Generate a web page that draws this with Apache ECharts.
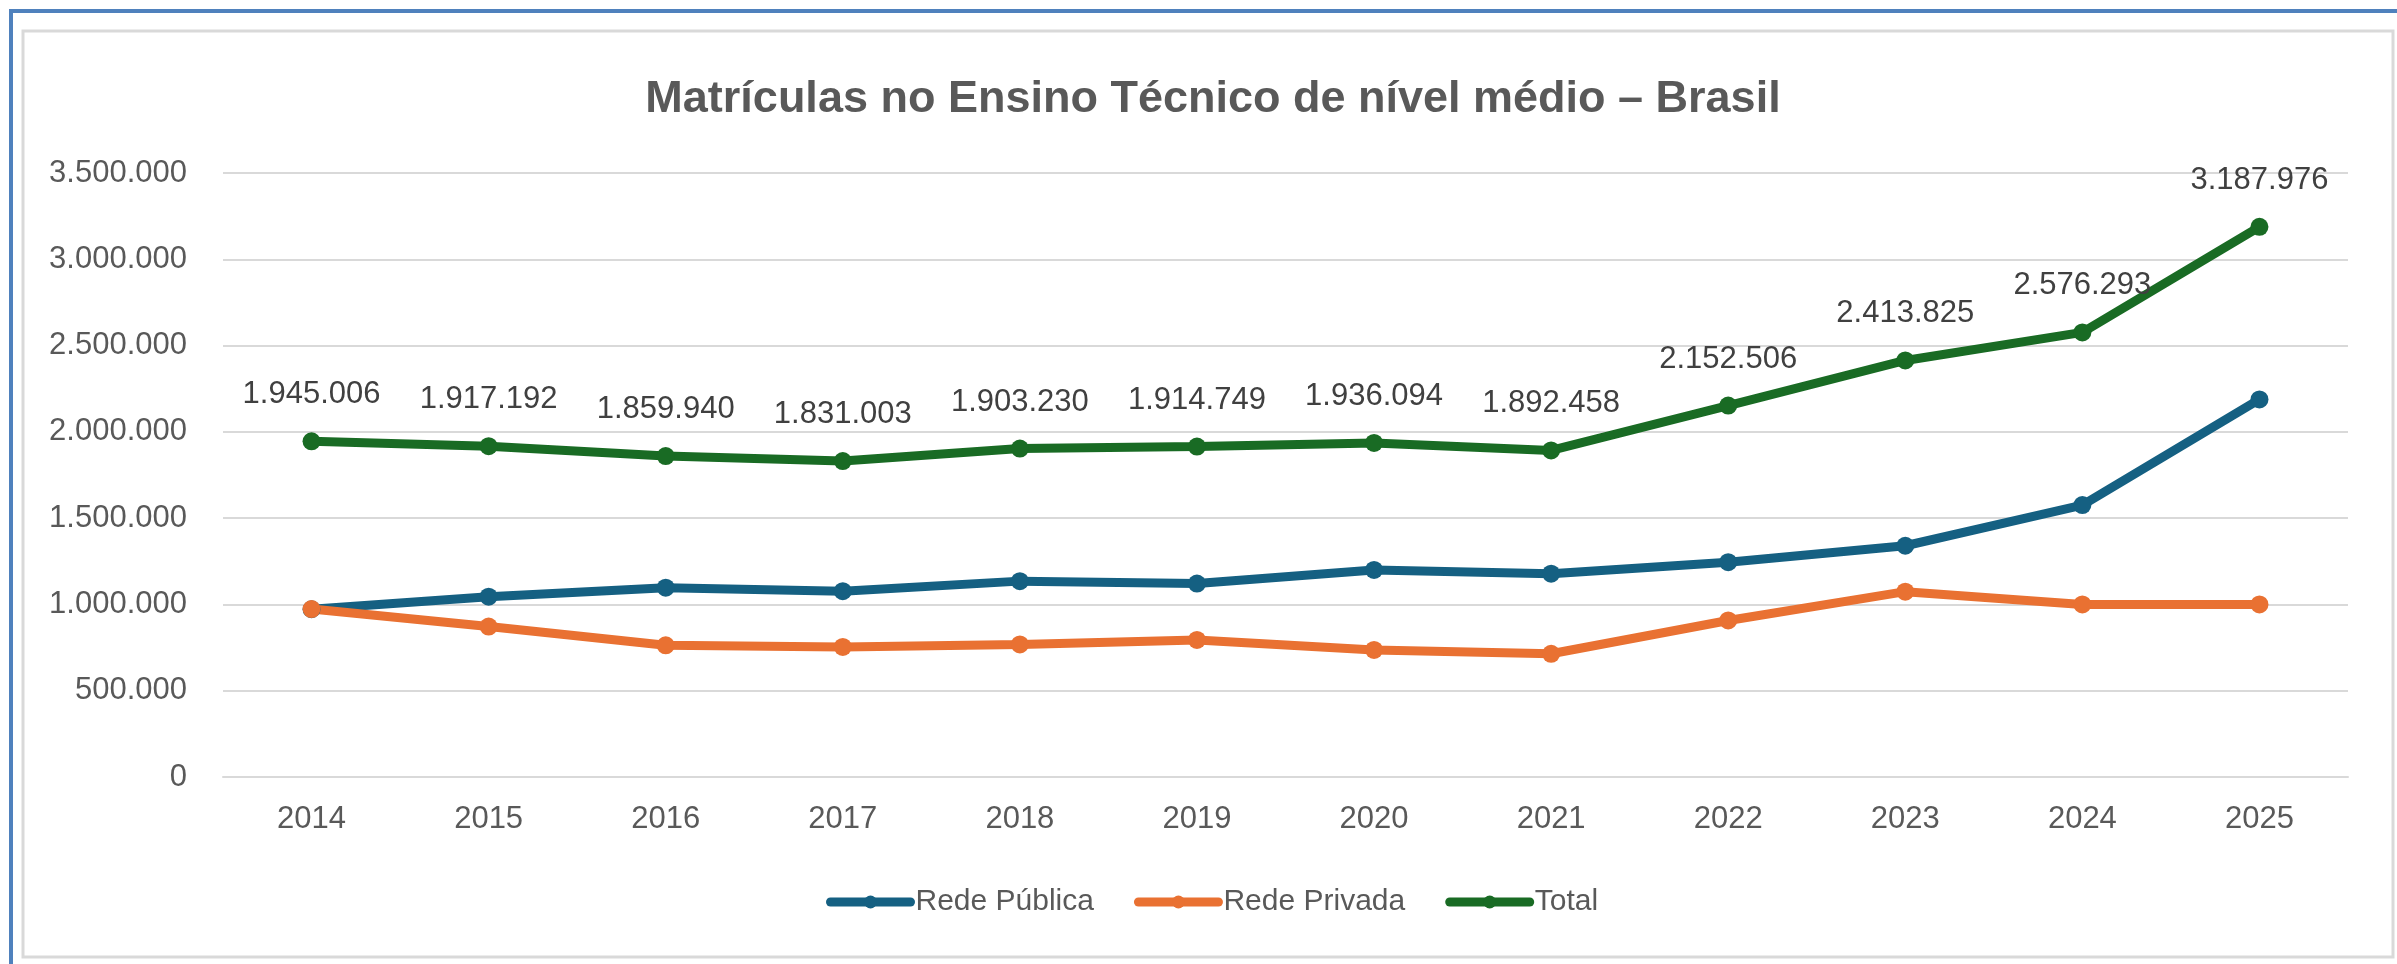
<!DOCTYPE html>
<html>
<head>
<meta charset="utf-8">
<script src="https://cdn.jsdelivr.net/npm/echarts@6/dist/echarts.min.js"></script>
<style>
  html, body { margin: 0; padding: 0; background: #fff; }
  #chart { width: 2397px; height: 964px; }
</style>
</head>
<body>
<div id="chart"></div>
<script>
  // dados
  var anos = ['2014', '2015', '2016', '2017', '2018', '2019', '2020', '2021', '2022', '2023', '2024', '2025'];
  var redePublica = [972000, 1045000, 1097000, 1077000, 1135000, 1121000, 1200000, 1178000, 1245000, 1340000, 1576000, 2188000];
  var redePrivada = [973000, 872000, 763000, 754000, 768000, 794000, 736000, 714000, 907000, 1074000, 1000000, 1000000];
  var total = [1945006, 1917192, 1859940, 1831003, 1903230, 1914749, 1936094, 1892458, 2152506, 2413825, 2576293, 3187976];

  function fmt(v) {
    return String(v).replace(/\B(?=(\d{3})+(?!\d))/g, '.');
  }

  var fonte = "'Liberation Sans', Arial, sans-serif";
  var myChart = echarts.init(document.getElementById('chart'));

  var option = {
    backgroundColor: '#fff',
    animation: false,
    textStyle: { fontFamily: fonte },
    title: {
      text: 'Matrículas no Ensino Técnico de nível médio – Brasil',
      left: 1208,
      textAlign: 'center',
      top: 72,
      textStyle: { fontFamily: fonte, fontSize: 45, fontWeight: 'bold', color: '#595959' }
    },
    legend: {
      left: 821,
      top: 882,
      itemWidth: 80,
      itemHeight: 16,
      itemGap: 40,
      lineStyle: { width: 9, cap: 'round' },
      textStyle: { fontFamily: fonte, fontSize: 30, color: '#595959' },
      data: ['Rede Pública', 'Rede Privada', 'Total']
    },
    grid: { left: 223, right: 49, top: 173, bottom: 187, containLabel: false },
    xAxis: {
      type: 'category',
      data: anos,
      boundaryGap: true,
      axisLine: { lineStyle: { color: '#d9d9d9', width: 2 } },
      axisTick: { show: false },
      axisLabel: { fontFamily: fonte, fontSize: 31, color: '#595959', margin: 27 }
    },
    yAxis: {
      type: 'value',
      min: 0,
      max: 3500000,
      interval: 500000,
      axisLine: { show: false },
      axisTick: { show: false },
      splitLine: { lineStyle: { color: '#d9d9d9', width: 2 } },
      axisLabel: { fontFamily: fonte, fontSize: 31, color: '#595959', margin: 36, formatter: fmt }
    },
    series: [
      {
        name: 'Rede Pública',
        type: 'line',
        data: redePublica,
        symbol: 'circle',
        symbolSize: 18,
        color: '#156082',
        lineStyle: { width: 9 }
      },
      {
        name: 'Rede Privada',
        type: 'line',
        data: redePrivada,
        symbol: 'circle',
        symbolSize: 18,
        color: '#e97132',
        lineStyle: { width: 9 }
      },
      {
        name: 'Total',
        type: 'line',
        data: total,
        symbol: 'circle',
        symbolSize: 18,
        color: '#196b24',
        lineStyle: { width: 9 },
        label: {
          show: true,
          position: 'top',
          distance: 22,
          fontFamily: fonte,
          fontSize: 31,
          color: '#404040',
          formatter: function (p) { return fmt(p.value); }
        }
      }
    ],
    graphic: [
      {
        type: 'rect',
        shape: { x: 11, y: 11, width: 2500, height: 1100 },
        style: { fill: null, stroke: '#4f81bd', lineWidth: 4 },
        silent: true
      },
      {
        type: 'rect',
        shape: { x: 23, y: 31, width: 2370, height: 926 },
        style: { fill: null, stroke: '#d9d9d9', lineWidth: 3 },
        silent: true
      }
    ]
  };

  myChart.setOption(option);
</script>
</body>
</html>
